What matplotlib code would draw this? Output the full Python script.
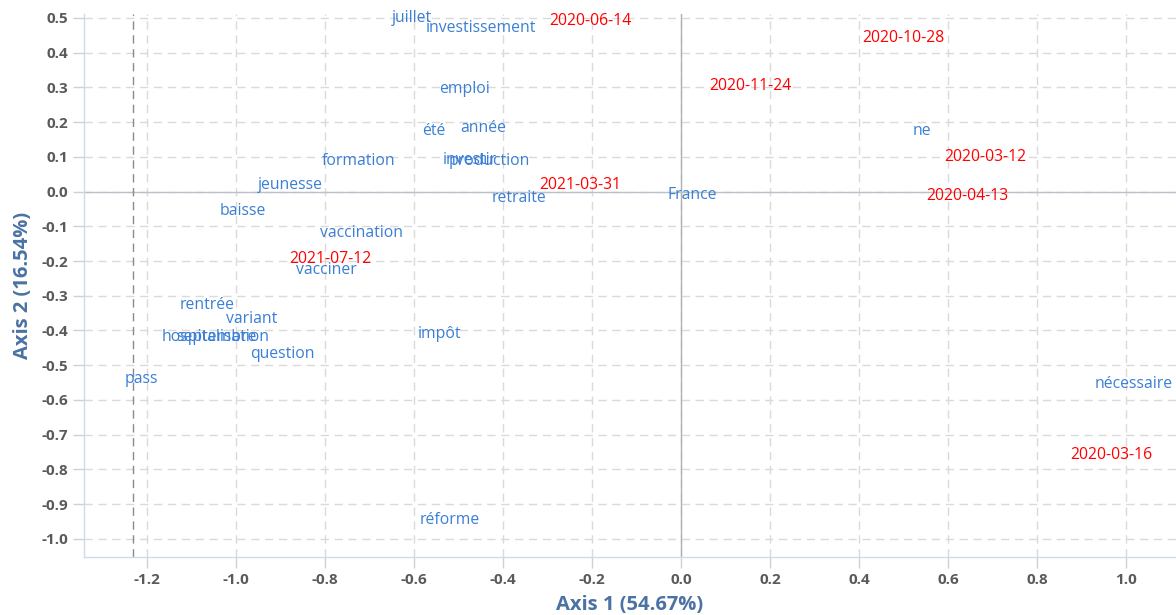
import matplotlib
matplotlib.use("Agg")
import matplotlib.pyplot as plt

# ---- data ----
words = ["juillet", "investissement", "emploi", "été", "année", "investir",
         "production", "formation", "jeunesse", "retraite", "France", "ne",
         "baisse", "vaccination", "vacciner", "rentrée", "variant",
         "hospitalisation", "septembre", "question", "pass", "impôt",
         "réforme", "nécessaire"]
word_x = [-0.605, -0.449, -0.488, -0.557, -0.445, -0.474,
          -0.431, -0.724, -0.879, -0.364, 0.025, 0.542,
          -0.984, -0.719, -0.798, -1.065, -0.966,
          -1.047, -1.045, -0.897, -1.213, -0.544,
          -0.521, 1.016]
word_y = [0.499, 0.470, 0.294, 0.173, 0.182, 0.092,
          0.089, 0.089, 0.020, -0.020, -0.009, 0.173,
          -0.055, -0.118, -0.225, -0.326, -0.366,
          -0.418, -0.418, -0.467, -0.539, -0.409,
          -0.945, -0.553]

dates = ["2020-06-14", "2020-10-28", "2020-11-24", "2020-03-12",
         "2020-04-13", "2021-03-31", "2021-07-12", "2020-03-16"]
date_x = [-0.204, 0.499, 0.155, 0.683, 0.643, -0.227, -0.789, 0.966]
date_y = [0.490, 0.441, 0.305, 0.098, -0.014, 0.020, -0.193, -0.758]

x_ticks = [-1.2, -1.0, -0.8, -0.6, -0.4, -0.2, 0.0, 0.2, 0.4, 0.6, 0.8, 1.0]
y_ticks = [0.5, 0.4, 0.3, 0.2, 0.1, 0.0, -0.1, -0.2, -0.3, -0.4, -0.5,
           -0.6, -0.7, -0.8, -0.9, -1.0]
x_label = "Axis 1 (54.67%)"
y_label = "Axis 2 (16.54%)"
ref_x = -1.232

plt.rcParams['font.family'] = ['Open Sans', 'DejaVu Sans']

fig = plt.figure(figsize=(11.76, 6.15), dpi=100)
ax = fig.add_axes([84 / 1176, 58 / 615, 1 - 84 / 1176, (557 - 14) / 615])

ax.set_xlim(-1.342, 1.112)
ax.set_ylim(-1.052, 0.511)

ax.set_xticks(x_ticks)
ax.set_yticks(y_ticks)
ax.set_xticklabels([f"{v:.1f}" for v in x_ticks])
ax.set_yticklabels([f"{v:.1f}" for v in y_ticks])

ax.grid(True, color="#dadada", linestyle=(0, (6, 4)), linewidth=1.0)
ax.set_axisbelow(True)
ax.axvline(0, color="#b0b0b0", linewidth=1.0, zorder=1)
ax.axhline(0, color="#bcc0c8", linewidth=1.0, zorder=1)
ax.axvline(ref_x, color="#8a8a8a", linestyle=(0, (6, 4)), linewidth=1.0, zorder=1)

for s in ["top", "right"]:
    ax.spines[s].set_visible(False)
for s in ["left", "bottom"]:
    ax.spines[s].set_color("#ccdcee")
    ax.spines[s].set_linewidth(1.0)

ax.tick_params(axis="both", colors="#d0d0d0", length=8, width=1,
               labelcolor="#5a5a5a", labelsize=11)
for lbl in ax.get_xticklabels() + ax.get_yticklabels():
    lbl.set_fontweight("bold")

for t, x, y in zip(words, word_x, word_y):
    ax.text(x, y, t, color="#3a7fd5", fontsize=11.3, ha="center", va="center")
for t, x, y in zip(dates, date_x, date_y):
    ax.text(x, y, t, color="#ff0000", fontsize=11.3, ha="center", va="center")

ax.set_xlabel(x_label, color="#4a72a2", fontsize=14.5, fontweight="bold", labelpad=6)
ax.set_ylabel(y_label, color="#4a72a2", fontsize=14.5, fontweight="bold", labelpad=6)

fig.savefig("out.png", dpi=100)
